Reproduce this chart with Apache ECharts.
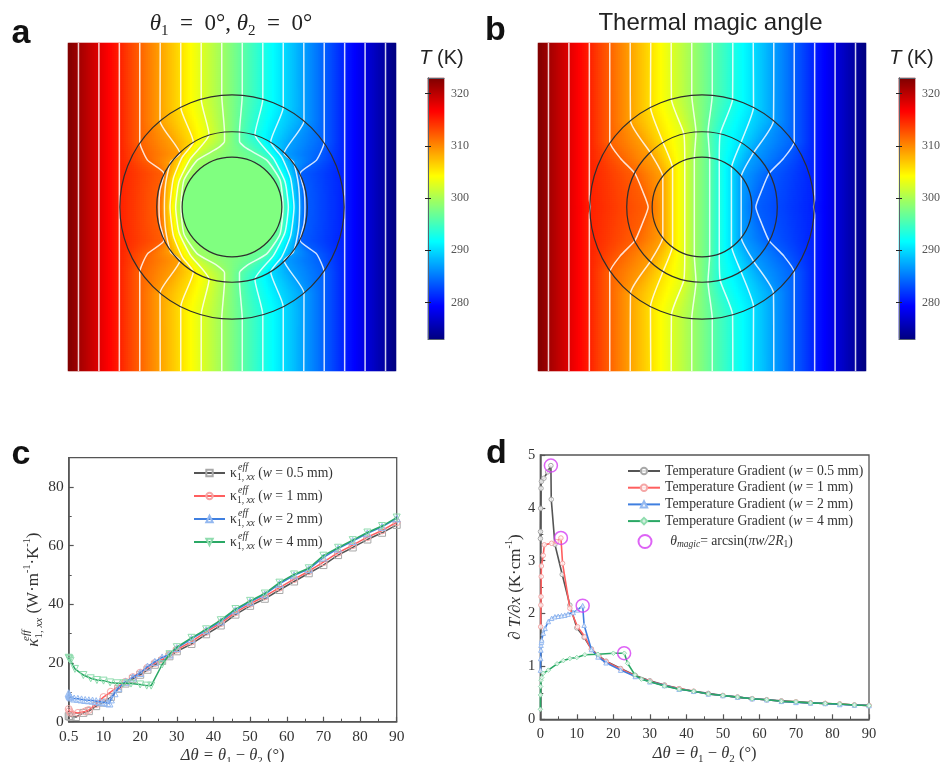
<!DOCTYPE html>
<html><head><meta charset="utf-8">
<style>html,body{margin:0;padding:0;background:#fff}#c{width:940px;height:762px;filter:blur(0.4px)}</style>
<script src="https://cdn.jsdelivr.net/npm/echarts@6/dist/echarts.min.js"></script>
</head><body><div id="c"></div>
<script>
// ---------- panels a, b : contour lines (upper-left quadrant, mirrored for the rest)
const isoTemps = [321.4, 318.3, 315.2, 312.0, 308.9, 305.8, 302.7, 299.6];
const edgeTemps = [323, 273];
const halfSide = 164.5;
const coreTempA = 298;
const ringRadii = [112.5, 75.5, 50];
const contoursA = [
  [[-154,164.5],[-154,0]],
  [[-133.5,164.5],[-133.5,0]],
  [[-113,164.5],[-113,0]],
  [[-92.5,164.5],[-92.5,65.3],[-84.8,47],[-68.2,33.7],[-72.2,17],[-73.2,0]],
  [[-72,164.5],[-72.2,86.3],[-52.2,53.7],[-61.5,45.3],[-66.5,23.7],[-67.8,0]],
  [[-51.4,164.5],[-51.4,100],[-38.8,65.3],[-49.8,50.3],[-58.8,28.7],[-62.2,0]],
  [[-30.9,164.5],[-30.9,108.2],[-23,72.7],[-41.5,48.7],[-53.2,25.3],[-56.5,0]],
  [[-10.3,164.5],[-10.3,112],[-7.5,75.1],[-7.5,66],[-14.8,58.7],[-34.8,47],[-48.2,27],[-51.2,0]]
];
const contoursB = [
  [[-154,164.5],[-154,0]],
  [[-133.5,164.5],[-133.5,0]],
  [[-113,164.5],[-113,8],[-112,0]],
  [[-92.5,164.5],[-92.5,65.3],[-81.7,48.7],[-67.3,33.7],[-60,17],[-54,0]],
  [[-72,164.5],[-71.7,86.3],[-51.3,53.7],[-39.3,30.3],[-39.3,0]],
  [[-51.4,164.5],[-51.7,100.3],[-40,67],[-29.5,38.7],[-29.5,0]],
  [[-30.9,164.5],[-30.7,108.3],[-18.3,73.7],[-17.3,47],[-17.3,0]],
  [[-10.3,164.5],[-10.3,112],[-6,75],[-7.7,48.7],[-7.7,0]]
];
const jetColors = ['#00007f','#0000ff','#0080ff','#00ffff','#80ff80','#ffff00','#ff8000','#ff0000','#7f0000'];
const barTicks = [280,290,300,310,320];
const barRange = [273,323];

// ---------- panel c
const cX05=[0.5,0.7,1,2.5,4.5,6,8,10,12,14,16,18,20,22,24,26,28,30,34,38,42,46,50,54,58,62,66,70,74,78,82,86,90];
const cY05=[1.9,1.8,1.7,1.6,3,3.6,5.3,6.5,8.4,11.2,13,14.6,16,17.7,19.4,20.7,22.3,24,26.5,29.8,32.8,36.5,39.5,41.9,44.9,47.8,50.6,53.4,56.8,59.4,62.1,64.4,67.1];
const cX1=[0.5,0.7,1,3,5,6,8,10,12,14,16,18,20,22,24,26,28,30,34,38,42,46,50,54,58,62,66,70,74,78,82,86,90];
const cY1=[4.3,3.6,3,3,3.5,4,6,8.4,10.2,12,13.6,15.2,16.7,18.4,20,21.2,22.9,24.6,27.3,30.6,33.6,37.3,40.2,42.7,45.7,48.6,51.3,54.4,57.6,60.2,62.9,65.2,68];
const cX2=[0.5,0.6,0.7,0.8,0.9,1,2,3,4,5,6,7,8,9,10,11,11.6,12,13,14,16,18,20,22,24,26,28,30,34,38,42,46,50,54,58,62,66,70,74,78,82,86,90];
const cY2=[9.7,9.3,9,8.8,8.6,8.3,7.9,7.8,7.6,7.4,7.3,7.2,7,6.8,6.6,6.4,6.2,7.6,9.7,11.4,13.6,15.1,16.6,18.8,20.4,21.9,22.9,25.1,28.2,31.2,34.2,38,40.9,43.4,47,49.9,52,56,59,61.6,64.2,66.4,69.3];
const cX4=[0.5,0.6,0.8,1,2.2,4.5,6.5,8.2,10,11.8,13.7,15.5,17.5,20,21.8,23,26,28,30,34,38,42,46,50,54,58,62,66,70,74,78,82,86,90];
const cY4=[21.8,21.6,21.3,20.8,18,15.9,14.8,14.2,14,13.4,13.1,13.1,13,12.7,12.3,12.3,19.5,23,25.4,28.6,31.5,34.6,38.4,41.2,43.7,47.4,50.2,52.3,56.6,59.3,61.9,64.5,66.7,69.6];

// ---------- panel d
const dX05=[0.03,0.05,0.1,0.2,0.3,1,2,2.9,3,4,6,8.1,10,12,14,16,18,22,26,30,34,38,42,46,50,54,58,62,66,70,74,78,82,86,90];
const dY05=[3.42,3.55,3.99,4.37,4.5,4.56,4.68,4.8,4.16,3.31,2.74,2.16,1.73,1.55,1.33,1.2,1.1,.96,.83,.73,.65,.58,.53,.49,.45,.42,.39,.37,.35,.33,.31,.3,.29,.27,.26];
const dX1=[0.1,0.15,0.2,0.25,0.3,0.8,1.1,3.1,4.5,5.65,6.1,8.1,10.2,12.2,14,16,18,22,26,30,34,38,42,46,50,54,58,62,66,70,74,78,82,86,90];
const dY1=[1.75,2.16,2.32,2.7,2.9,3.1,3.3,3.33,3.36,3.43,2.95,2.1,1.75,1.56,1.32,1.19,1.09,.95,.82,.72,.64,.58,.53,.48,.45,.42,.39,.37,.34,.33,.31,.3,.29,.27,.26];
const dX2=[0.05,0.1,0.15,0.2,0.3,0.4,0.8,1.3,2.2,3.1,4,4.9,5.8,6.7,7.6,9,10.2,11.6,12,14,15.8,18,22,26,30,34,38,42,46,50,54,58,62,66,70,74,78,82,86,90];
const dY2=[.93,1.15,1.31,1.4,1.46,1.5,1.63,1.72,1.85,1.91,1.94,1.95,1.96,1.97,1.99,2.02,2.07,2.15,1.78,1.32,1.18,1.07,.93,.81,.71,.64,.57,.53,.48,.45,.42,.39,.37,.34,.32,.31,.3,.28,.27,.26];
const dX4=[0.02,0.05,0.1,0.2,0.4,0.8,2.2,4.6,6.3,8.1,10,12.2,15.8,20,23,23.9,25.9,27.7,30,34,38,42,46,50,54,58,62,66,70,74,78,82,86,90];
const dY4=[.19,.46,.62,.74,.79,.87,.93,1.05,1.11,1.15,1.17,1.22,1.23,1.25,1.25,1.06,.84,.76,.71,.63,.57,.53,.48,.45,.42,.39,.37,.34,.33,.31,.3,.29,.27,.26];
const magicX=[2.9,5.65,11.6,22.95];
const magicY=[4.8,3.43,2.15,1.25];

const serif='"Liberation Serif","Times New Roman",serif';
const sans='"Liberation Sans",Arial,sans-serif';
const zip=(a,b)=>a.map((v,i)=>[v,b[i]]);

const fullLine=q=>q.concat(q.slice(0,-1).reverse().map(p=>[p[0],-p[1]]));
const flipX=l=>l.map(p=>[-p[0],p[1]]);
function crossAt(q,y){
  for(let i=0;i<q.length-1;i++){
    const a=q[i],b=q[i+1];
    if(y<=a[1]&&y>=b[1]) return a[0]+(b[0]-a[0])*(a[1]-y)/(a[1]-b[1]);
  }
  return q[q.length-1][0];
}
const CELLS=164;
function buildField(contours,coreT,coreR){
  const d=[],step=2*halfSide/CELLS;
  for(let j=0;j<CELLS;j++){
    const y=-halfSide+(j+.5)*step, ay=Math.abs(y);
    const xs=[-halfSide],ts=[edgeTemps[0]];
    contours.forEach((q,k)=>{xs.push(crossAt(q,ay));ts.push(isoTemps[k]);});
    for(let k=contours.length-1;k>=0;k--){xs.push(-crossAt(contours[k],ay));ts.push(edgeTemps[0]+edgeTemps[1]-isoTemps[k]);}
    xs.push(halfSide);ts.push(edgeTemps[1]);
    let k=0;
    for(let i=0;i<CELLS;i++){
      const x=-halfSide+(i+.5)*step;
      while(k<xs.length-2&&x>xs[k+1])k++;
      let T=ts[k]+(ts[k+1]-ts[k])*(x-xs[k])/(xs[k+1]-xs[k]);
      if(coreT!==null&&x*x+y*y<coreR*coreR)T=coreT;
      d.push([i,j,+T.toFixed(2)]);
    }
  }
  return d;
}
const cellCats=Array.from({length:CELLS},(_,i)=>i);
const BAR_ROWS=261;
const barCats=Array.from({length:BAR_ROWS},(_,j)=>+(barRange[0]+(j+.5)*(barRange[1]-barRange[0])/BAR_ROWS).toFixed(2));

const grid=[],xAxis=[],yAxis=[],series=[];
const addGrid=(l,t,w,h,extra)=>{grid.push(Object.assign({left:l,top:t,width:w,height:h,containLabel:false,outerBoundsMode:'none'},extra||{}));return grid.length-1;};
const addX=o=>{xAxis.push(o);return xAxis.length-1;};
const addY=o=>{yAxis.push(o);return yAxis.length-1;};

function mapPanel(l,t,w,h,contours,coreT,coreR){
  const g0=addGrid(l,t,w,h);
  const xh=addX({gridIndex:g0,type:'category',data:cellCats,show:false});
  const yh=addY({gridIndex:g0,type:'category',data:cellCats,show:false});
  series.push({type:'heatmap',xAxisIndex:xh,yAxisIndex:yh,data:buildField(contours,coreT,coreR),silent:true,progressive:0,animation:false,emphasis:{disabled:true}});
  const g1=addGrid(l,t,w,h);
  const xv=addX({gridIndex:g1,type:'value',min:-halfSide,max:halfSide,show:false});
  const yv=addY({gridIndex:g1,type:'value',min:-halfSide,max:halfSide,show:false});
  contours.forEach(q=>{
    const L=fullLine(q);
    [L,flipX(L)].forEach(data=>series.push({type:'line',xAxisIndex:xv,yAxisIndex:yv,data,showSymbol:false,symbol:'none',smooth:0.18,
      lineStyle:{color:'rgba(255,255,255,0.82)',width:1.5},silent:true,z:3,animation:false}));
  });
  series.push({type:'custom',xAxisIndex:xv,yAxisIndex:yv,silent:true,z:4,clip:false,animation:false,
    data:ringRadii.map(r=>[0,0,r]),
    renderItem:(p,api)=>{const c=api.coord([api.value(0),api.value(1)]);const r=api.size([api.value(2),0])[0];
      return {type:'circle',shape:{cx:c[0],cy:c[1],r},style:{fill:'none',stroke:'#2e2e2e',lineWidth:1.2}};}});
}
const heatIdx=[];
function colorBar(l,t,w,h){
  const g0=addGrid(l,t,w,h);
  const xh=addX({gridIndex:g0,type:'category',data:['T'],show:false});
  const yh=addY({gridIndex:g0,type:'category',data:barCats,show:false});
  heatIdx.push(series.length);
  series.push({type:'heatmap',xAxisIndex:xh,yAxisIndex:yh,data:barCats.map((v,j)=>[0,j,v]),silent:true,progressive:0,animation:false,emphasis:{disabled:true}});
  const g1=addGrid(l,t,w,h);
  const edge={show:true,lineStyle:{color:'#5a6470',width:1}};
  addX({gridIndex:g1,type:'value',z:10,min:0,max:1,position:'bottom',axisLine:edge,axisTick:{show:false},axisLabel:{show:false},splitLine:{show:false}});
  addX({gridIndex:g1,type:'value',z:10,min:0,max:1,position:'top',axisLine:edge,axisTick:{show:false},axisLabel:{show:false},splitLine:{show:false}});
  const tick={show:true,inside:true,length:3,lineStyle:{color:'#222',width:1},customValues:barTicks};
  addY({gridIndex:g1,type:'value',z:10,min:barRange[0],max:barRange[1],position:'left',axisLine:edge,axisTick:tick,axisLabel:{show:false},splitLine:{show:false}});
  addY({gridIndex:g1,type:'value',z:10,min:barRange[0],max:barRange[1],position:'right',axisLine:edge,axisTick:tick,splitLine:{show:false},
    axisLabel:{show:true,customValues:barTicks,fontFamily:serif,fontSize:12,color:'#555',margin:7}});
}

heatIdx.push(series.length);
mapPanel(68,43,328,328,contoursA,coreTempA,ringRadii[2]);
heatIdx.push(series.length);
mapPanel(538,43,328,328,contoursB,null,0);
colorBar(428,78,16,261);
colorBar(899,78,16,261);

const axisCol='#555';
const richAt=fs=>({
  i:{fontFamily:serif,fontStyle:'italic',fontWeight:'normal',fontSize:fs,color:'#333',lineHeight:22,verticalAlign:'middle'},
  r:{fontFamily:serif,fontWeight:'normal',fontSize:fs,color:'#333',lineHeight:22,verticalAlign:'middle'},
  s:{fontFamily:serif,fontSize:11,color:'#333',lineHeight:13,verticalAlign:'bottom'},
  si:{fontFamily:serif,fontStyle:'italic',fontSize:11,color:'#333',lineHeight:13,verticalAlign:'bottom'},
  u:{fontFamily:serif,fontSize:10,color:'#333',lineHeight:12,verticalAlign:'top'}
});
function plot(l,t,w,h,xr,yr,xMajor,xMinor,yMajor,yMinor,xName,yName,nameGapY,fs){
  const g=addGrid(l,t,w,h,{show:true,borderColor:axisCol,borderWidth:1.3,backgroundColor:'transparent'});
  const line={show:true,lineStyle:{color:axisCol,width:1.5}};
  const xi=addX({gridIndex:g,type:'value',min:xr[0],max:xr[1],position:'bottom',axisLine:line,splitLine:{show:false},
    axisTick:{show:true,inside:true,length:5,lineStyle:{color:axisCol,width:1.2},customValues:xMajor},
    axisLabel:{show:true,customValues:xMajor,fontFamily:serif,fontSize:fs,color:'#333',margin:7},
    name:xName,nameLocation:'middle',nameGap:23,nameTextStyle:{rich:richAt(16.5)}});
  addX({gridIndex:g,type:'value',min:xr[0],max:xr[1],position:'bottom',axisLine:{show:false},splitLine:{show:false},axisLabel:{show:false},
    axisTick:{show:true,inside:true,length:3,lineStyle:{color:axisCol,width:1},customValues:xMinor}});
  const yi=addY({gridIndex:g,type:'value',min:yr[0],max:yr[1],position:'left',axisLine:line,splitLine:{show:false},
    axisTick:{show:true,inside:true,length:5,lineStyle:{color:axisCol,width:1.2},customValues:yMajor},
    axisLabel:{show:true,customValues:yMajor,fontFamily:serif,fontSize:fs,color:'#333',margin:5},
    name:yName,nameLocation:'middle',nameGap:nameGapY,nameRotate:90,nameTextStyle:{rich:richAt(17)}});
  addY({gridIndex:g,type:'value',min:yr[0],max:yr[1],position:'left',axisLine:{show:false},splitLine:{show:false},axisLabel:{show:false},
    axisTick:{show:true,inside:true,length:3,lineStyle:{color:axisCol,width:1},customValues:yMinor}});
  return [xi,yi];
}
const pal=[
 {line:'#555555',mark:'#a8a8a8'},
 {line:'#ff5f5f',mark:'#f5a6a6'},
 {line:'#3f7fe0',mark:'#93b8f0'},
 {line:'#2aa865',mark:'#8fdcae'}];
const xTitle='{i|Δθ = θ}{s|1}{r| − }{i|θ}{s|2}{r| (°)}';
const [cxi,cyi]=plot(68.7,457.7,328,264,[0.5,90],[0,90],[0.5,10,20,30,40,50,60,70,80,90],[15,25,35,45,55,65,75,85],[0,20,40,60,80],[10,30,50,70],
  xTitle,'{i|κ}{s|1, }{si|xx}{r| (W·m}{u|-1}{r|·K}{u|-1}{r|)}',24,15.5);
const cNames=['κ (w = 0.5 mm)','κ (w = 1 mm)','κ (w = 2 mm)','κ (w = 4 mm)'];
const cSyms=['rect','circle','triangle','path://M0,0L10,0L5,10Z'];
[zip(cX05,cY05),zip(cX1,cY1),zip(cX2,cY2),zip(cX4,cY4)].forEach((data,i)=>{
  series.push({type:'line',name:cNames[i],xAxisIndex:cxi,yAxisIndex:cyi,data,symbol:cSyms[i],symbolSize:7,showAllSymbol:true,clip:false,
    lineStyle:{color:pal[i].line,width:1.5},itemStyle:{color:'#ffffff00',borderColor:pal[i].mark,borderWidth:1},silent:true,animation:false,z:3+i});
});
const [dxi,dyi]=plot(540.3,455,328.7,264.3,[0,90],[0,5],[0,10,20,30,40,50,60,70,80,90],[5,15,25,35,45,55,65,75,85],[0,1,2,3,4,5],[.5,1.5,2.5,3.5,4.5],
  xTitle,'{i|∂ T/∂x}{r| (K·cm}{u|-1}{r|)}',6,14.5);
const dNames=['Temperature Gradient (w = 0.5 mm)','Temperature Gradient (w = 1 mm)','Temperature Gradient (w = 2 mm)','Temperature Gradient (w = 4 mm)'];
const dSyms=['circle','circle','triangle','diamond'];
[zip(dX05,dY05),zip(dX1,dY1),zip(dX2,dY2),zip(dX4,dY4)].forEach((data,i)=>{
  series.push({type:'line',name:dNames[i],xAxisIndex:dxi,yAxisIndex:dyi,data,symbol:dSyms[i],symbolSize:4.5,showAllSymbol:true,clip:false,
    lineStyle:{color:pal[i].line,width:1.6},itemStyle:{color:'#ffffffcc',borderColor:pal[i].mark,borderWidth:1},silent:true,animation:false,z:3+i});
});
series.push({type:'scatter',name:'magic',xAxisIndex:dxi,yAxisIndex:dyi,data:zip(magicX,magicY),symbol:'circle',symbolSize:13,clip:false,
  itemStyle:{color:'#ffffff00',borderColor:'#d43cf2',borderWidth:1.5},silent:true,animation:false,z:9});

const legRichAt=lh=>({
  i:{fontFamily:serif,fontStyle:'italic',fontSize:13.7,color:'#333',lineHeight:lh,verticalAlign:'middle'},
  r:{fontFamily:serif,fontSize:13.7,color:'#333',lineHeight:lh,verticalAlign:'middle'},
  s:{fontFamily:serif,fontSize:9.5,color:'#333',lineHeight:10,verticalAlign:'bottom'},
  si:{fontFamily:serif,fontStyle:'italic',fontSize:9.5,color:'#333',lineHeight:10,verticalAlign:'bottom'}
});
const legend=[
 {orient:'vertical',left:193,top:466,padding:0,itemWidth:31,itemHeight:8,itemGap:7,data:cNames,selectedMode:false,align:'left',
  formatter:n=>'{r|κ}{s|1, }{si|xx}{r| (}{i|w}{r|'+n.slice(n.indexOf('=')-1)+'}',
  textStyle:{rich:legRichAt(18)}},
 {orient:'vertical',left:627,top:464,padding:0,itemWidth:32,itemHeight:8,itemGap:2.7,data:dNames,selectedMode:false,align:'left',
  formatter:n=>'{r|Temperature Gradient (}{i|w}{r|'+n.slice(n.indexOf('=')-1)+'}',
  textStyle:{rich:legRichAt(14)}},
 {left:637.5,top:534,padding:0,itemWidth:13,itemHeight:13,data:[{name:'magic',icon:'circle'}],selectedMode:false,itemGap:0,
  formatter:()=>'{i|    θ}{si|magic}{r|= arcsin(}{i|πw/2R}{s|1}{r|)}',
  textStyle:{rich:legRichAt(16)}}
];

const ttl=(text,left,top,rich)=>({text,left,top,padding:0,textAlign:'center',textStyle:{fontWeight:'normal',rich}});
const letter={b:{fontFamily:sans,fontWeight:'bold',fontSize:34,color:'#111'}};
const head={
  i:{fontFamily:serif,fontStyle:'italic',fontWeight:'normal',fontSize:23,color:'#222',lineHeight:30},
  r:{fontFamily:serif,fontWeight:'normal',fontSize:23,color:'#222',lineHeight:30},
  s:{fontFamily:serif,fontWeight:'normal',fontSize:15,color:'#222',lineHeight:16,verticalAlign:'bottom'}
};
const tk={i:{fontFamily:sans,fontStyle:'italic',fontWeight:'normal',fontSize:20,color:'#222'},r:{fontFamily:sans,fontWeight:'normal',fontSize:20,color:'#222'}};
const title=[
 ttl('{b|a}',21,17,letter),ttl('{b|b}',495.5,14,letter),ttl('{b|c}',21,438,letter),ttl('{b|d}',496.5,437,letter),
 ttl('{i|θ}{s|1}{r|  =  0°, }{i|θ}{s|2}{r|  =  0°}',231,9,head),
 {text:'Thermal magic angle',left:710.5,top:11,padding:0,textAlign:'center',textStyle:{fontFamily:sans,fontWeight:'normal',fontSize:24,color:'#222'}},
 ttl('{i|T}{r| (K)}',441.5,48,tk),ttl('{i|T}{r| (K)}',911.5,48,tk)
];
const graphic=[
 {type:'text',x:21,y:641,rotation:Math.PI/2,style:{text:'eff',font:'italic 11px '+serif,fill:'#333'},silent:true},
];
[462,485,508,531].forEach(y=>graphic.push({type:'text',x:238,y,style:{text:'eff',font:'italic 10px '+serif,fill:'#333'},silent:true}));

const chart=echarts.init(document.getElementById('c'),null,{renderer:'canvas'});
chart.setOption({
  animation:false,backgroundColor:'#fff',title,legend,grid,xAxis,yAxis,series,graphic,
  visualMap:[{type:'continuous',show:false,min:barRange[0],max:barRange[1],dimension:2,
    seriesIndex:heatIdx,inRange:{color:jetColors}}]
});
</script></body></html>
